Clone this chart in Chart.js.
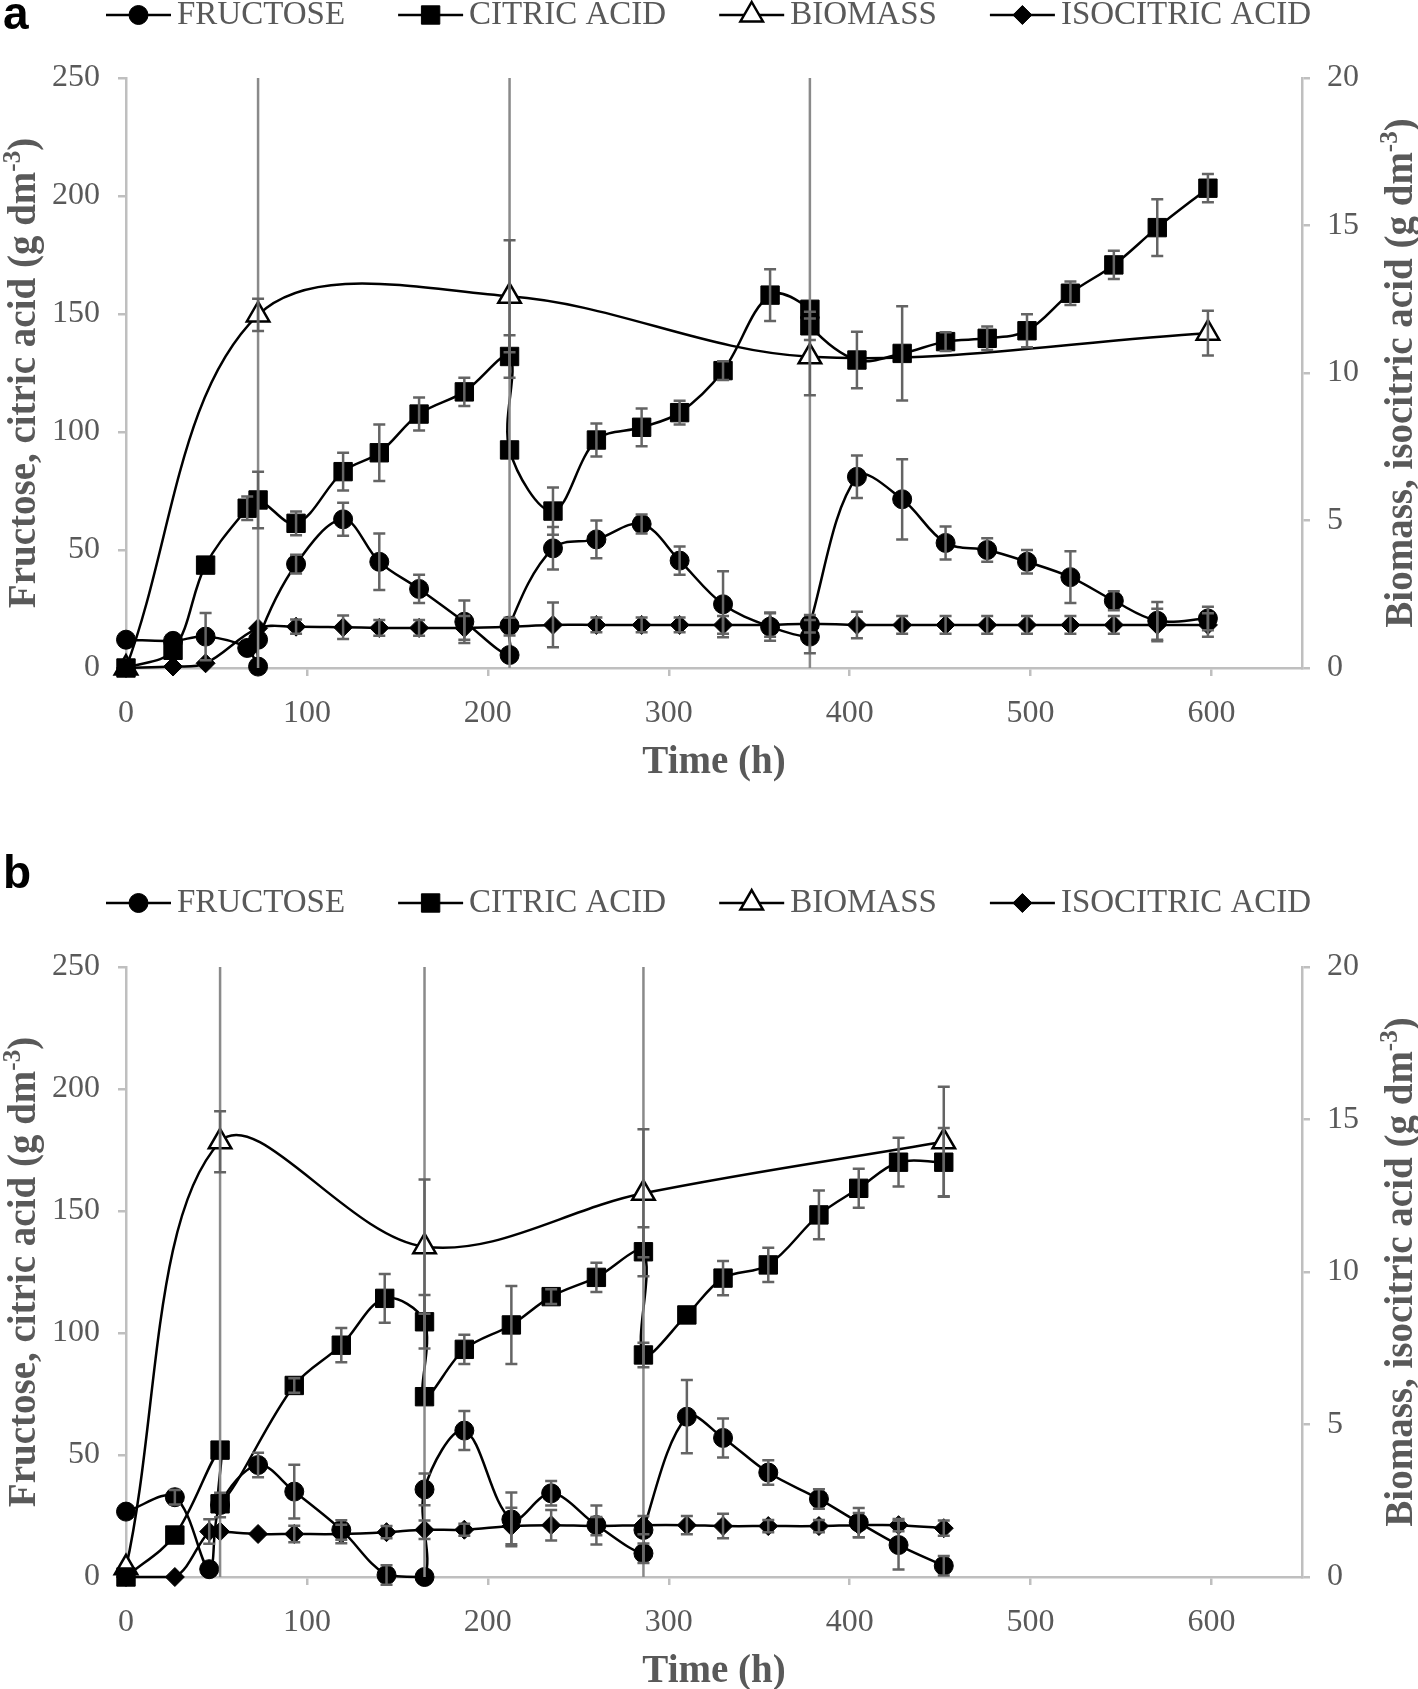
<!DOCTYPE html>
<html>
<head>
<meta charset="utf-8">
<script src="https://cdn.jsdelivr.net/npm/chart.js"></script>
<style>
  html, body { margin: 0; padding: 0; background: #fff; overflow: hidden; }
  #wrap { position: relative; width: 1418px; height: 1689px; overflow: hidden; }
  canvas { position: absolute; left: 0; }
  #chartA { top: 0; }
  #chartB { top: 845px; }
</style>
</head>
<body>
<div id="wrap">
  <canvas id="chartA" width="1418" height="845"></canvas>
  <canvas id="chartB" width="1418" height="900"></canvas>
</div>
<script>
// series names (legend order)
const seriesNames = ["FRUCTOSE", "CITRIC ACID", "BIOMASS", "ISOCITRIC ACID"];
const timeTicks = [0, 100, 200, 300, 400, 500, 600];
const leftTicks = [0, 50, 100, 150, 200, 250];
const rightTicks = [0, 5, 10, 15, 20];

// ---- panel a ----
const aFeeds = [73, 212, 378];
const aFructoseTime = [0, 26, 44, 67, 73, 73, 94, 120, 140, 162, 187, 212, 212, 236, 260, 285, 306, 330, 356, 378, 378, 404, 429, 453, 476, 498, 522, 546, 570, 598];
const aFructose     = [12, 11.5, 13.3, 8.5, 0.6, 12, 44, 63, 45, 33.5, 19.6, 5.5, 18, 50.7, 54.5, 61, 45.5, 27, 17.5, 13.3, 18.5, 81, 71.5, 53, 50, 45, 38.5, 28.5, 20, 21];
const aFructoseErr  = [0, 0, 10, 0, 0, 0, 4, 7, 12, 6, 9, 0, 0, 9, 8, 4, 6, 14, 6, 7, 0, 9, 17, 7, 5, 5, 11, 4, 8, 5];
const aCitricTime = [0, 26, 44, 67, 73, 94, 120, 140, 162, 187, 212, 212, 236, 260, 285, 306, 330, 356, 378, 378, 404, 429, 453, 476, 498, 522, 546, 570, 598];
const aCitric     = [0, 7.5, 43.6, 67.7, 71.2, 61.3, 83.2, 91.2, 107.6, 117, 132, 92.4, 66.5, 96.6, 102, 108.2, 126, 158, 152, 145, 130.5, 133.3, 138.3, 139.7, 142.9, 158.8, 170.8, 186.6, 203.3];
const aCitricErr  = [0, 0, 0, 5, 12, 5, 8, 12, 7, 6, 9, 0, 10, 7, 8, 5, 4, 11, 0, 6, 12, 20, 4, 5, 7, 5, 6, 12, 6];
const aBiomassTime = [0, 73, 212, 378, 598];
const aBiomass     = [0, 11.97, 12.6, 10.55, 11.35];
const aBiomassErr  = [0, 0.55, 1.9, 1.3, 0.76];
const aIsoTime = [0, 26, 44, 73, 94, 120, 140, 162, 187, 212, 236, 260, 285, 306, 330, 356, 378, 404, 429, 453, 476, 498, 522, 546, 570, 598];
const aIso     = [0, 0.05, 0.16, 1.35, 1.4, 1.38, 1.36, 1.36, 1.36, 1.4, 1.46, 1.46, 1.46, 1.46, 1.46, 1.46, 1.5, 1.46, 1.46, 1.46, 1.46, 1.46, 1.46, 1.46, 1.46, 1.46];
const aIsoErr  = [0, 0, 0, 0, 0.24, 0.4, 0.27, 0.27, 0.4, 0.3, 0.76, 0.25, 0.25, 0.25, 0.3, 0.4, 0.3, 0.45, 0.3, 0.3, 0.3, 0.3, 0.3, 0.3, 0.55, 0.4];

// ---- panel b ----
const bFeeds = [52, 165, 286];
const bFructoseTime = [0, 27, 46, 52, 73, 93, 119, 144, 165, 165, 187, 213, 235, 260, 286, 286, 310, 330, 355, 383, 405, 427, 452];
const bFructose     = [26.8, 32.7, 3.2, 29.5, 45.9, 35, 19.3, 0.8, 0, 35.9, 60, 23.6, 34.3, 21.3, 9.7, 19.3, 65.7, 57, 42.8, 32, 22.3, 13.1, 4.6];
const bFructoseErr  = [0, 3, 0, 5, 5, 11, 4, 4, 0, 6.5, 8, 11, 5, 8, 4, 0, 15, 8, 5, 4, 6, 10, 4];
const bCitricTime = [0, 27, 52, 52, 93, 119, 143, 165, 165, 187, 213, 235, 260, 286, 286, 310, 330, 355, 383, 405, 427, 452];
const bCitric     = [0, 17.2, 52, 30, 78.5, 95, 114.2, 104.6, 73.9, 93.3, 103.3, 114.9, 122.8, 133.3, 91, 107.4, 122.5, 127.9, 148.4, 159.3, 170, 170];
const bCitricErr  = [0, 0, 0, 0, 3, 7, 10, 11, 0, 6, 16, 3, 6, 10, 5, 0, 7, 7, 10, 8, 10, 14];
const bBiomassTime = [0, 52, 165, 286, 452];
const bBiomass     = [0.3, 14.27, 10.83, 12.58, 14.27];
const bBiomassErr  = [0, 1.0, 2.2, 2.1, 1.8];
const bIsoTime = [0, 27, 46, 52, 73, 93, 119, 144, 165, 187, 213, 235, 260, 286, 310, 330, 355, 383, 405, 427, 452];
const bIso     = [0, 0, 1.49, 1.49, 1.41, 1.41, 1.41, 1.47, 1.55, 1.55, 1.67, 1.7, 1.67, 1.7, 1.7, 1.67, 1.67, 1.67, 1.7, 1.7, 1.6];
const bIsoErr  = [0, 0, 0.4, 0, 0, 0.27, 0.3, 0.2, 0.3, 0.2, 0.6, 0.5, 0.3, 0.3, 0.3, 0.4, 0.2, 0.2, 0.4, 0.2, 0.25];

const GREY = "#595959";
const AXIS = "#bfbfbf";
const SERIF = "'Liberation Serif', 'Times New Roman', serif";

const markers = [
  { style: "circle",   radius: 9.5, fill: "#000", border: 1 },
  { style: "rect",     radius: 13,  fill: "#000", border: 1 },
  { style: "triangle", radius: 13,  fill: "#fff", border: 2.5 },
  { style: "rectRot",  radius: 9.5, fill: "#000", border: 1 }
];

function pts(t, v) {
  return t.map((x, i) => ({ x: x, y: v[i] }));
}

function makeDataset(k, t, v, err) {
  const m = markers[k];
  return {
    label: seriesNames[k],
    data: pts(t, v),
    errors: err,
    yAxisID: k >= 2 ? "y2" : "y",
    borderColor: "#000",
    borderWidth: 2.5,
    tension: 0.35,
    pointStyle: m.style,
    pointRadius: m.radius,
    pointHoverRadius: m.radius,
    pointBackgroundColor: m.fill,
    pointBorderColor: "#000",
    pointBorderWidth: m.border,
    clip: false
  };
}

// small marker for the legend
function drawMarker(ctx, m, x, y) {
  ctx.save();
  ctx.fillStyle = m.fill;
  ctx.strokeStyle = "#000";
  ctx.lineWidth = m.border;
  ctx.beginPath();
  const r = m.radius;
  if (m.style === "circle") {
    ctx.arc(x, y, r, 0, Math.PI * 2);
  } else if (m.style === "rect") {
    const s = r * Math.SQRT1_2;
    ctx.rect(x - s, y - s, 2 * s, 2 * s);
  } else if (m.style === "triangle") {
    for (let i = 0; i < 3; i++) {
      const a = i * 2 * Math.PI / 3;
      ctx[i ? "lineTo" : "moveTo"](x + Math.sin(a) * r, y - Math.cos(a) * r);
    }
    ctx.closePath();
  } else {
    ctx.moveTo(x, y - r); ctx.lineTo(x + r, y); ctx.lineTo(x, y + r); ctx.lineTo(x - r, y);
    ctx.closePath();
  }
  ctx.fill();
  ctx.stroke();
  ctx.restore();
}

// rotated axis title reading bottom-to-top, with superscript
function vTitle(ctx, cx, cy, main, sup, tail) {
  const big = "bold 39px " + SERIF, small = "bold 25px " + SERIF;
  ctx.save();
  ctx.translate(cx, cy);
  ctx.rotate(-Math.PI / 2);
  ctx.font = big;
  const w1 = ctx.measureText(main).width, w3 = ctx.measureText(tail).width;
  ctx.font = small;
  const w2 = ctx.measureText(sup).width;
  let x = -(w1 + w2 + w3) / 2;
  const base = 13;
  ctx.fillStyle = GREY;
  ctx.textAlign = "left";
  ctx.textBaseline = "alphabetic";
  ctx.font = big;   ctx.fillText(main, x, base); x += w1;
  ctx.font = small; ctx.fillText(sup, x, base - 15); x += w2;
  ctx.font = big;   ctx.fillText(tail, x, base);
  ctx.restore();
}

const decor = {
  id: "decor",
  afterDatasetsDraw(chart, args, opts) {
    const ctx = chart.ctx;
    const xs = chart.scales.x;
    const area = chart.chartArea;
    ctx.save();
    // vertical lines at the feeding times
    ctx.strokeStyle = "#8a8a8a";
    ctx.lineWidth = 2.5;
    opts.feeds.forEach(t => {
      const px = xs.getPixelForValue(t);
      ctx.beginPath();
      ctx.moveTo(px, area.top);
      ctx.lineTo(px, area.bottom);
      ctx.stroke();
    });
    // error bars
    ctx.strokeStyle = "#646464";
    chart.data.datasets.forEach(ds => {
      const ys = chart.scales[ds.yAxisID];
      ds.data.forEach((p, j) => {
        const e = ds.errors[j];
        if (!e) return;
        const px = xs.getPixelForValue(p.x);
        const y1 = ys.getPixelForValue(p.y + e);
        const y2 = ys.getPixelForValue(p.y - e);
        ctx.beginPath();
        ctx.moveTo(px, y1); ctx.lineTo(px, y2);
        ctx.moveTo(px - 6, y1); ctx.lineTo(px + 6, y1);
        ctx.moveTo(px - 6, y2); ctx.lineTo(px + 6, y2);
        ctx.stroke();
      });
    });
    ctx.restore();
  },
  afterDraw(chart, args, opts) {
    const ctx = chart.ctx;
    const area = chart.chartArea;
    ctx.save();
    // panel letter
    ctx.fillStyle = "#000";
    ctx.font = "bold 46px 'Liberation Sans', Arial, sans-serif";
    ctx.textBaseline = "alphabetic";
    ctx.fillText(opts.letter, 3, opts.letterY);
    // legend
    ctx.font = "33px " + SERIF;
    ctx.textBaseline = "middle";
    ctx.textAlign = "left";
    let x = 106;
    const y = opts.legendY;
    chart.data.datasets.forEach((ds, k) => {
      ctx.strokeStyle = "#000";
      ctx.lineWidth = 2.5;
      ctx.beginPath();
      ctx.moveTo(x, y);
      ctx.lineTo(x + 65, y);
      ctx.stroke();
      drawMarker(ctx, markers[k], x + 32.5, y);
      ctx.fillStyle = GREY;
      ctx.fillText(ds.label, x + 71, y);
      x += 71 + ctx.measureText(ds.label).width + 53;
    });
    ctx.restore();
    // axis titles
    const cy = (area.top + area.bottom) / 2;
    vTitle(ctx, 22, cy, "Fructose, citric acid (g dm", "-3", ")");
    vTitle(ctx, 1399, cy, "Biomass, isocitric acid (g dm", "-3", ")");
  }
};

function makePanel(id, sets, feeds, pad, letter, letterY, legendY) {
  const tickFont = { family: SERIF, size: 32 };
  const grid = { drawOnChartArea: false, drawTicks: true, tickLength: 8, color: AXIS, lineWidth: 2.5 };
  const border = { color: AXIS, width: 2.5 };
  return new Chart(document.getElementById(id), {
    type: "line",
    data: { datasets: sets },
    options: {
      responsive: false,
      animation: false,
      events: [],
      layout: { padding: pad },
      plugins: {
        legend: { display: false },
        tooltip: { enabled: false },
        decor: { feeds: feeds, letter: letter, letterY: letterY, legendY: legendY }
      },
      scales: {
        x: {
          type: "linear",
          min: timeTicks[0],
          max: 650,
          grid: grid,
          border: border,
          ticks: { stepSize: timeTicks[1] - timeTicks[0], includeBounds: false, autoSkip: false, maxRotation: 0, color: GREY, font: tickFont, padding: 18 },
          title: { display: true, text: "Time (h)", color: GREY, font: { family: SERIF, size: 39, weight: "bold" }, padding: 0 },
          afterFit: s => { s.height = 118; }
        },
        y: {
          position: "left",
          min: leftTicks[0],
          max: leftTicks[leftTicks.length - 1],
          grid: grid,
          border: border,
          ticks: { stepSize: leftTicks[1] - leftTicks[0], color: GREY, font: tickFont, padding: 18 },
          afterFit: s => { s.width = 126; }
        },
        y2: {
          position: "right",
          min: rightTicks[0],
          max: rightTicks[rightTicks.length - 1],
          grid: grid,
          border: border,
          ticks: { stepSize: rightTicks[1] - rightTicks[0], color: GREY, font: tickFont, padding: 17 },
          afterFit: s => { s.width = 116; }
        }
      }
    },
    plugins: [decor]
  });
}

makePanel("chartA", [
  makeDataset(0, aFructoseTime, aFructose, aFructoseErr),
  makeDataset(1, aCitricTime, aCitric, aCitricErr),
  makeDataset(2, aBiomassTime, aBiomass, aBiomassErr),
  makeDataset(3, aIsoTime, aIso, aIsoErr)
], aFeeds, { top: 78, bottom: 59, left: 0, right: 0 }, "a", 29, 15);

makePanel("chartB", [
  makeDataset(0, bFructoseTime, bFructose, bFructoseErr),
  makeDataset(1, bCitricTime, bCitric, bCitricErr),
  makeDataset(2, bBiomassTime, bBiomass, bBiomassErr),
  makeDataset(3, bIsoTime, bIso, bIsoErr)
], bFeeds, { top: 122, bottom: 50, left: 0, right: 0 }, "b", 43, 58);
</script>
</body>
</html>
